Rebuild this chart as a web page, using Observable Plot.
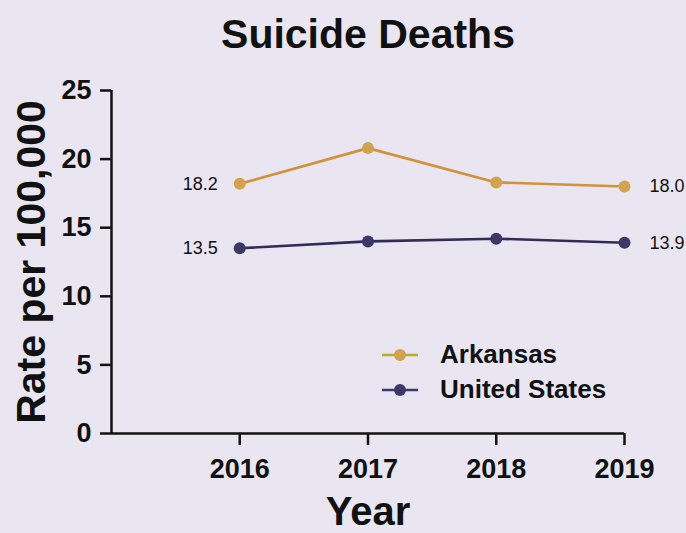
<!DOCTYPE html>
<html>
<head>
<meta charset="utf-8">
<script src="https://cdn.jsdelivr.net/npm/d3@7"></script>
<script src="https://cdn.jsdelivr.net/npm/@observablehq/plot@0.6"></script>
<style>
  html, body { margin: 0; padding: 0; background: #e9e6f1; }
  #wrap { position: relative; width: 686px; height: 533px; overflow: hidden; background: #e9e6f1; font-family: "Liberation Sans", Arial, sans-serif; }
  #legend { position: absolute; left: 380px; top: 337px; }
  .item { display: flex; align-items: center; height: 35px; font-weight: bold; font-size: 26px; color: #111; }
  .item svg { margin-right: 20px; }
</style>
</head>
<body>
<div id="wrap"></div>
<script>
const title = "Suicide Deaths";
const yLabel = "Rate per 100,000";
const xLabel = "Year";
const years = [2016, 2017, 2018, 2019];
const arkansas = [18.2, 20.8, 18.3, 18.0];
const unitedStates = [13.5, 14.0, 14.2, 13.9];
const seriesNames = ["Arkansas", "United States"];
const lineColors = ["#d2923a", "#302d58"];
const dotColors = ["#d4a24e", "#3c3968"];
const yTicks = [0, 5, 10, 15, 20, 25];

const data = [
  ...years.map((year, i) => ({year, rate: arkansas[i], series: seriesNames[0]})),
  ...years.map((year, i) => ({year, rate: unitedStates[i], series: seriesNames[1]}))
];
const firsts = data.filter(d => d.year === years[0]);
const lasts = data.filter(d => d.year === years[years.length - 1]);

const font = "Liberation Sans, Arial, sans-serif";

const chart = Plot.plot({
  width: 686,
  height: 533,
  marginTop: 90,
  marginBottom: 100,
  marginLeft: 111,
  marginRight: 62,
  style: {background: "#e9e6f1", fontFamily: font, color: "#111", overflow: "visible"},
  x: {domain: [2015, 2019], label: null},
  y: {domain: [0, 25], label: null},
  color: {domain: seriesNames, range: lineColors},
  marks: [
    Plot.axisX({ticks: years, tickFormat: d => String(d), tickSize: 12, tickPadding: 13, fontSize: 27, fontWeight: "bold", strokeWidth: 2.5, label: null}),
    Plot.axisY({ticks: yTicks, tickSize: 11, tickPadding: 9, fontSize: 27, fontWeight: "bold", strokeWidth: 2.5, label: null}),
    Plot.ruleY([0], {strokeWidth: 2.5, stroke: "#111"}),
    Plot.ruleX([2015], {strokeWidth: 2.5, stroke: "#111"}),
    Plot.line(data, {x: "year", y: "rate", z: "series", stroke: "series", strokeWidth: 2.6}),
    Plot.dot(data, {x: "year", y: "rate", r: 6, fill: d => dotColors[seriesNames.indexOf(d.series)], stroke: null}),
    Plot.text(firsts, {x: "year", y: "rate", text: d => d.rate.toFixed(1), textAnchor: "end", dx: -22, fontSize: 18, fill: "#111"}),
    Plot.text(lasts, {x: "year", y: "rate", text: d => d.rate.toFixed(1), textAnchor: "start", dx: 25, fontSize: 18, fill: "#111"}),
    Plot.text([title], {frameAnchor: "top", lineAnchor: "bottom", dy: -43, fontSize: 41, fontWeight: "bold", fill: "#111"}),
    Plot.text([xLabel], {frameAnchor: "bottom", lineAnchor: "bottom", dy: 91, fontSize: 40, fontWeight: "bold", fill: "#111"}),
    Plot.text([yLabel], {frameAnchor: "left", textAnchor: "middle", lineAnchor: "bottom", rotate: -90, dx: -67, fontSize: 41, fontWeight: "bold", fill: "#111"})
  ]
});

const wrap = document.getElementById("wrap");
wrap.appendChild(chart);

const legend = document.createElement("div");
legend.id = "legend";
const legendLine = ["#b4ad30", "#3a3870"];
seriesNames.forEach((name, i) => {
  const item = document.createElement("div");
  item.className = "item";
  item.innerHTML = `<svg width="40" height="14"><line x1="2" x2="38" y1="7" y2="7" stroke="${legendLine[i]}" stroke-width="2.5"/><circle cx="20" cy="7" r="6" fill="${dotColors[i]}"/></svg><span>${name}</span>`;
  legend.appendChild(item);
});
wrap.appendChild(legend);
</script>
</body>
</html>
